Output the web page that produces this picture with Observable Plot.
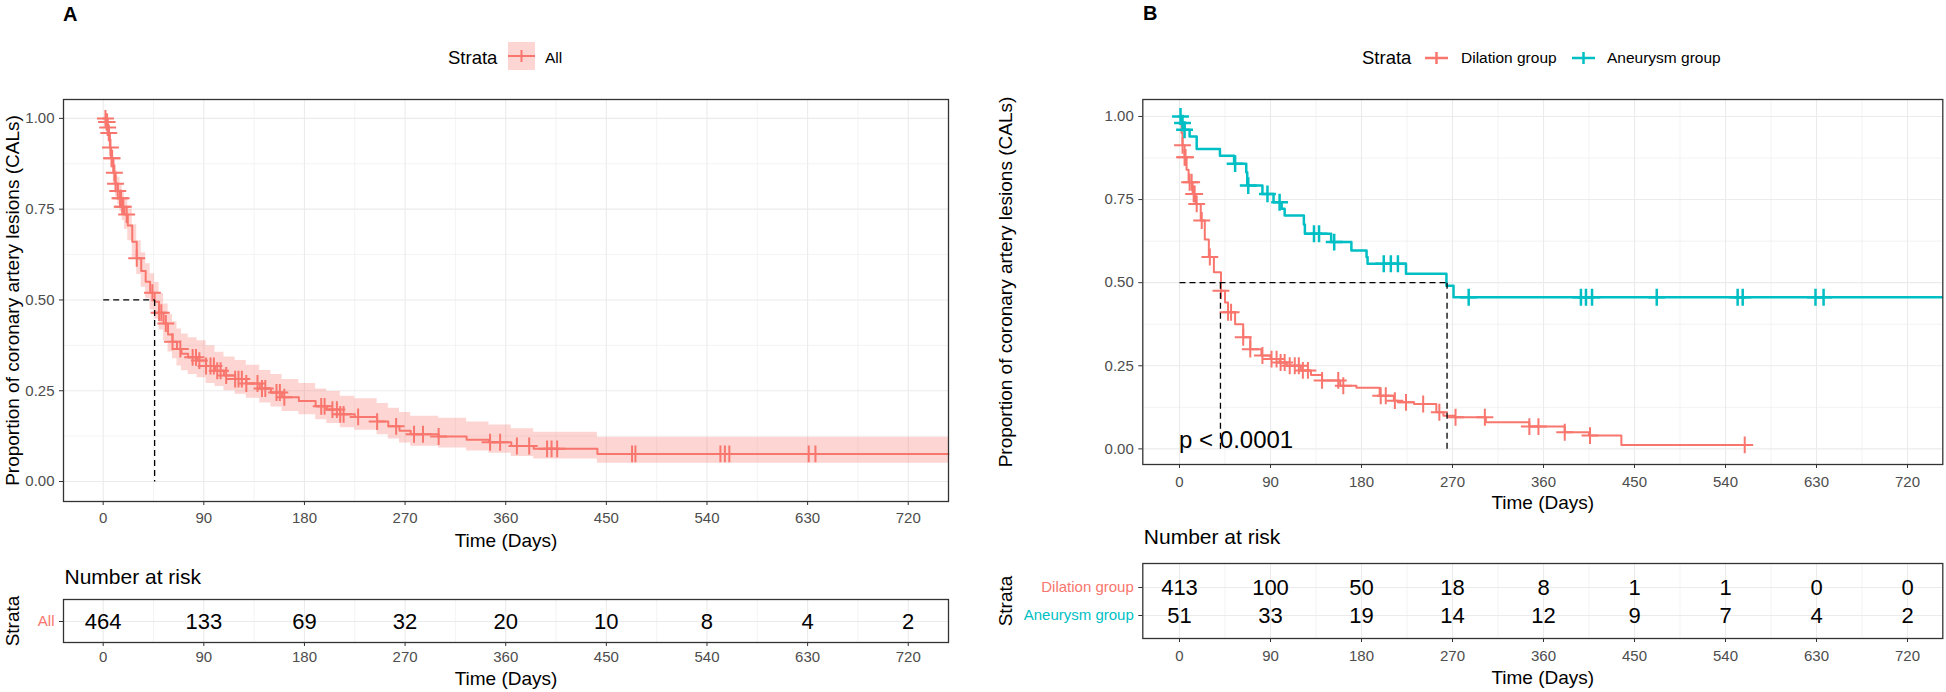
<!DOCTYPE html>
<html><head><meta charset="utf-8">
<script src="https://cdn.jsdelivr.net/npm/d3@7"></script>
<script src="https://cdn.jsdelivr.net/npm/@observablehq/plot@0.6"></script>
<style>
body{margin:0;background:#fff;}
#root{position:relative;width:1946px;height:692px;overflow:hidden;background:#fff;font-family:"Liberation Sans",Arial,sans-serif;}
#root > svg{position:absolute;}
</style></head><body><div id="root"></div>
<script>
// ---------- DATA ----------
const xTicks = [0, 90, 180, 270, 360, 450, 540, 630, 720];
const xMinor = [45, 135, 225, 315, 405, 495, 585, 675];
const yTicks = [0, 0.25, 0.5, 0.75, 1];
const yMinor = [0.125, 0.375, 0.625, 0.875];

// Panel A: all patients (Kaplan-Meier steps)
const timesA = [0, 3, 4, 5, 6, 7, 9, 11, 13, 15, 17, 19, 22, 26, 30, 34, 38, 42, 46, 50, 54, 58, 62, 66, 70, 76, 84, 92, 100, 108, 118, 128, 140, 150, 160, 175, 190, 200, 212, 225, 245, 255, 265, 275, 300, 325, 345, 365, 385, 442, 756];
const survA  = [1, 0.99, 0.975, 0.96, 0.92, 0.89, 0.85, 0.82, 0.80, 0.78, 0.757, 0.735, 0.705, 0.66, 0.615, 0.58, 0.55, 0.52, 0.495, 0.465, 0.435, 0.405, 0.385, 0.365, 0.352, 0.342, 0.333, 0.318, 0.305, 0.292, 0.282, 0.27, 0.256, 0.245, 0.232, 0.222, 0.207, 0.198, 0.185, 0.178, 0.165, 0.152, 0.14, 0.13, 0.124, 0.115, 0.108, 0.098, 0.09, 0.076, 0.076];
const lowerA = [1, 0.981, 0.96, 0.942, 0.896, 0.862, 0.818, 0.785, 0.763, 0.742, 0.718, 0.695, 0.663, 0.616, 0.57, 0.535, 0.503, 0.472, 0.447, 0.417, 0.387, 0.357, 0.338, 0.318, 0.305, 0.295, 0.286, 0.27, 0.262, 0.25, 0.24, 0.229, 0.216, 0.205, 0.193, 0.184, 0.17, 0.16, 0.148, 0.141, 0.129, 0.117, 0.106, 0.097, 0.092, 0.084, 0.078, 0.069, 0.062, 0.05, 0.05];
const upperA = [1, 0.999, 0.99, 0.978, 0.945, 0.918, 0.884, 0.856, 0.838, 0.82, 0.798, 0.777, 0.75, 0.707, 0.663, 0.63, 0.6, 0.572, 0.548, 0.518, 0.489, 0.46, 0.44, 0.42, 0.406, 0.396, 0.388, 0.374, 0.356, 0.343, 0.333, 0.32, 0.306, 0.295, 0.281, 0.27, 0.255, 0.248, 0.235, 0.228, 0.215, 0.202, 0.19, 0.18, 0.174, 0.164, 0.156, 0.145, 0.136, 0.122, 0.122];
const censA = [2, 3, 3.5, 4, 5, 6.5, 7.5, 8, 10, 11, 13, 15, 16, 17, 18, 21, 30, 44, 50, 52, 56, 62, 69, 80, 83, 86, 92, 96, 99, 102, 105, 110, 118, 121, 124, 128, 138, 142, 145, 155, 158, 162, 195, 198, 205, 209, 212, 215, 228, 245, 262, 278, 286, 300, 346, 355, 370, 381, 397, 401, 406, 473, 476, 552, 556, 560, 631, 637];
const medianA = [46];

// Panel B: dilation group
const timesDil = [0, 2, 3, 5, 7, 9, 13, 16, 21, 25, 29, 34, 41, 45, 48, 55, 63, 70, 81, 90, 99, 106, 120, 130, 141, 159, 175, 198, 212, 216, 232, 254, 261, 272, 303, 346, 381, 405, 437, 559];
const survDil  = [1, 0.95, 0.913, 0.877, 0.84, 0.802, 0.767, 0.737, 0.687, 0.63, 0.577, 0.531, 0.476, 0.44, 0.411, 0.375, 0.336, 0.30, 0.281, 0.27, 0.26, 0.25, 0.236, 0.222, 0.206, 0.19, 0.184, 0.16, 0.145, 0.14, 0.135, 0.11, 0.10, 0.095, 0.08, 0.067, 0.05, 0.04, 0.012, 0.012];
const censDil = [3, 5, 6, 10, 12, 14, 15, 17, 22, 30, 41, 48, 51, 63, 70, 82, 91, 96, 100, 104, 109, 114, 118, 122, 127, 141, 157, 162, 199, 204, 213, 224, 241, 257, 273, 302, 346, 355, 381, 406, 559];

// Panel B: aneurysm group
const timesAn = [0, 2, 5, 10, 17, 40, 54, 66, 67, 82, 93, 101, 104, 123, 124, 150, 170, 185, 186, 224, 264, 271, 754];
const survAn  = [1, 0.98, 0.96, 0.94, 0.902, 0.882, 0.858, 0.832, 0.792, 0.767, 0.742, 0.722, 0.702, 0.675, 0.647, 0.622, 0.597, 0.577, 0.557, 0.527, 0.491, 0.456, 0.456];
const censAn = [1, 3, 5, 55, 68, 87, 99, 133, 138, 153, 202, 209, 216, 286, 397, 402, 408, 472, 552, 557, 629, 637];
const medianB = [40.5, 264.6];
const pvalText = ["p < 0.0001"];

// Number at risk
const riskTimes = [0, 90, 180, 270, 360, 450, 540, 630, 720];
const riskAll = [464, 133, 69, 32, 20, 10, 8, 4, 2];
const riskDil = [413, 100, 50, 18, 8, 1, 1, 0, 0];
const riskAn  = [51, 33, 19, 14, 12, 9, 7, 4, 2];

// ---------- STYLE ----------
const RED = "#F8766D", TEAL = "#00BFC4", GRID = "#EBEBEB", BORDER = "#333333", TICKTXT = "#4D4D4D";
const FONT = "Liberation Sans, Arial, sans-serif";
const root = document.getElementById("root");

function stepAt(times, surv, t) {
  let v = surv[0];
  for (let i = 0; i < times.length; i++) { if (times[i] <= t) v = surv[i]; else break; }
  return v;
}
function place(svg, left, top) { svg.style.left = left + "px"; svg.style.top = top + "px"; root.appendChild(svg); }
function grids() {
  return [
    Plot.gridX(xMinor, {stroke: GRID, strokeOpacity: 1, strokeWidth: 0.6}),
    Plot.gridY(yMinor, {stroke: GRID, strokeOpacity: 1, strokeWidth: 0.6}),
    Plot.gridX(xTicks, {stroke: GRID, strokeOpacity: 1, strokeWidth: 1.1}),
    Plot.gridY(yTicks, {stroke: GRID, strokeOpacity: 1, strokeWidth: 1.1})
  ];
}
function medianLinks(meds) {
  const m = d3.max(meds);
  const segs = [{x1: 0, x2: m, y1: 0.5, y2: 0.5}].concat(meds.map(v => ({x1: v, x2: v, y1: 0.5, y2: 0})));
  return Plot.link(segs, {x1: "x1", x2: "x2", y1: "y1", y2: "y2", stroke: "#000", strokeWidth: 1.3, strokeDasharray: "6,4"});
}
function label(txt, opts) {
  return Plot.text([txt], {text: d => d, textAnchor: "middle", lineAnchor: "middle", fill: "#000", ...opts});
}
const yTitle = "Proportion of coronary artery lesions (CALs)";

// ---------- PANEL A ----------
const kmA = timesA.map((t, i) => ({t, s: survA[i], lo: lowerA[i], hi: upperA[i]}));
const cA = censA.map(t => ({t, s: stepAt(timesA, survA, t)}));
const plotA = Plot.plot({
  width: 973, height: 560, marginLeft: 63, marginRight: 25, marginTop: 99, marginBottom: 59,
  style: {fontFamily: FONT, fontSize: "15px", color: TICKTXT, background: "transparent", overflow: "visible"},
  x: {domain: [-35.5, 756], axis: null},
  y: {domain: [-0.055, 1.052], axis: null},
  marks: [
    ...grids(),
    Plot.areaY(kmA, {x: "t", y1: "lo", y2: "hi", curve: "step-after", fill: RED, fillOpacity: 0.3}),
    Plot.line(kmA, {x: "t", y: "s", curve: "step-after", stroke: RED, strokeWidth: 2}),
    Plot.dot(cA, {x: "t", y: "s", symbol: "plus", r: 5.5, stroke: RED, strokeWidth: 2}),
    medianLinks(medianA),
    Plot.frame({stroke: BORDER, strokeWidth: 1.3}),
    Plot.axisX({ticks: xTicks, tickSize: 4, tickPadding: 7, label: null, stroke: BORDER, fill: TICKTXT}),
    Plot.axisY({ticks: yTicks, tickSize: 4, tickPadding: 5, label: null, tickFormat: d3.format(".2f"), stroke: BORDER, fill: TICKTXT}),
    label("Time (Days)", {frameAnchor: "bottom", dy: 39, fontSize: 19}),
    label(yTitle, {frameAnchor: "left", dx: -51, rotate: -90, fontSize: 19})
  ]
});
place(plotA, 0, 0);

// ---------- PANEL A RISK TABLE ----------
const rA = riskTimes.map((t, i) => ({t, g: "All", n: riskAll[i]}));
const tabA = Plot.plot({
  width: 973, height: 132, marginLeft: 63, marginRight: 25, marginTop: 39, marginBottom: 50,
  style: {fontFamily: FONT, fontSize: "15px", color: TICKTXT, background: "transparent", overflow: "visible"},
  x: {domain: [-35.5, 756], axis: null},
  y: {domain: ["All"], type: "point", axis: null},
  marks: [
    Plot.gridX(xMinor, {stroke: GRID, strokeOpacity: 1, strokeWidth: 0.6}),
    Plot.gridX(xTicks, {stroke: GRID, strokeOpacity: 1, strokeWidth: 1.1}),
    Plot.gridY(["All"], {stroke: GRID, strokeOpacity: 1, strokeWidth: 1.1}),
    Plot.text(rA, {x: "t", y: "g", text: d => String(d.n), fontSize: 22, fill: "#000"}),
    Plot.frame({stroke: BORDER, strokeWidth: 1.3}),
    Plot.axisX({ticks: xTicks, tickSize: 4, tickPadding: 5, label: null, stroke: BORDER, fill: TICKTXT}),
    Plot.axisY({ticks: ["All"], tickSize: 4, tickPadding: 5, label: null, stroke: BORDER, fill: RED}),
    label("Number at risk", {frameAnchor: "top-left", dx: 1, dy: -22, textAnchor: "start", fontSize: 21}),
    label("Strata", {frameAnchor: "left", dx: -51, rotate: -90, fontSize: 19}),
    label("Time (Days)", {frameAnchor: "bottom", dy: 36, fontSize: 19})
  ]
});
place(tabA, 0, 560);

// ---------- PANEL B ----------
const kmDil = timesDil.map((t, i) => ({t, s: survDil[i]}));
const kmAn = timesAn.map((t, i) => ({t, s: survAn[i]}));
const cDil = censDil.map(t => ({t, s: stepAt(timesDil, survDil, t)}));
const cAn = censAn.map(t => ({t, s: stepAt(timesAn, survAn, t)}));
const plotB = Plot.plot({
  width: 973, height: 520, marginLeft: 169.3, marginRight: 3.7, marginTop: 99, marginBottom: 56,
  style: {fontFamily: FONT, fontSize: "15px", color: TICKTXT, background: "transparent", overflow: "visible"},
  x: {domain: [-36.3, 754.9], axis: null},
  y: {domain: [-0.047, 1.051], axis: null},
  marks: [
    ...grids(),
    Plot.line(kmDil, {x: "t", y: "s", curve: "step-after", stroke: RED, strokeWidth: 2}),
    Plot.line(kmAn, {x: "t", y: "s", curve: "step-after", stroke: TEAL, strokeWidth: 2.5}),
    Plot.dot(cDil, {x: "t", y: "s", symbol: "plus", r: 5.5, stroke: RED, strokeWidth: 2}),
    Plot.dot(cAn, {x: "t", y: "s", symbol: "plus", r: 5.5, stroke: TEAL, strokeWidth: 2.5}),
    medianLinks(medianB),
    Plot.text(pvalText, {text: d => d, frameAnchor: "bottom-left", dx: 36.3, dy: -24, textAnchor: "start", lineAnchor: "middle", fontSize: 24, fill: "#000"}),
    Plot.frame({stroke: BORDER, strokeWidth: 1.3}),
    Plot.axisX({ticks: xTicks, tickSize: 4, tickPadding: 8, label: null, stroke: BORDER, fill: TICKTXT}),
    Plot.axisY({ticks: yTicks, tickSize: 4, tickPadding: 5, label: null, tickFormat: d3.format(".2f"), stroke: BORDER, fill: TICKTXT}),
    label("Time (Days)", {frameAnchor: "bottom", dy: 38, fontSize: 19}),
    label(yTitle, {frameAnchor: "left", dx: -137, rotate: -90, fontSize: 19})
  ]
});
place(plotB, 973, 0);

// ---------- PANEL B RISK TABLE ----------
const groupsB = ["Dilation group", "Aneurysm group"];
const rB = riskTimes.flatMap((t, i) => [{t, g: groupsB[0], n: riskDil[i]}, {t, g: groupsB[1], n: riskAn[i]}]);
const tabB = Plot.plot({
  width: 973, height: 172, marginLeft: 169.3, marginRight: 3.7, marginTop: 43, marginBottom: 54,
  style: {fontFamily: FONT, fontSize: "15px", color: TICKTXT, background: "transparent", overflow: "visible"},
  x: {domain: [-36.3, 754.9], axis: null},
  y: {domain: groupsB, type: "point", padding: 0.8, axis: null},
  marks: [
    Plot.gridX(xMinor, {stroke: GRID, strokeOpacity: 1, strokeWidth: 0.6}),
    Plot.gridX(xTicks, {stroke: GRID, strokeOpacity: 1, strokeWidth: 1.1}),
    Plot.gridY(groupsB, {stroke: GRID, strokeOpacity: 1, strokeWidth: 1.1}),
    Plot.text(rB, {x: "t", y: "g", text: d => String(d.n), fontSize: 22, fill: "#000"}),
    Plot.frame({stroke: BORDER, strokeWidth: 1.3}),
    Plot.axisX({ticks: xTicks, tickSize: 4, tickPadding: 8, label: null, stroke: BORDER, fill: TICKTXT}),
    Plot.axisY({ticks: [groupsB[0]], tickSize: 4, tickPadding: 5, label: null, stroke: BORDER, fill: RED}),
    Plot.axisY({ticks: [groupsB[1]], tickSize: 4, tickPadding: 5, label: null, stroke: BORDER, fill: TEAL}),
    label("Number at risk", {frameAnchor: "top-left", dx: 1, dy: -26, textAnchor: "start", fontSize: 21}),
    label("Strata", {frameAnchor: "left", dx: -137, rotate: -90, fontSize: 19}),
    label("Time (Days)", {frameAnchor: "bottom", dy: 39, fontSize: 19})
  ]
});
place(tabB, 973, 520);

// ---------- LEGENDS & PANEL LABELS ----------
const ov = d3.select(root).append("svg")
  .attr("width", 1946).attr("height", 92)
  .style("left", "0px").style("top", "0px")
  .style("font-family", FONT);
ov.append("text").attr("x", 63).attr("y", 14).attr("dy", "0.35em").attr("font-size", 20).attr("font-weight", "bold").text("A");
ov.append("text").attr("x", 1143).attr("y", 13).attr("dy", "0.35em").attr("font-size", 20).attr("font-weight", "bold").text("B");

// Legend A
ov.append("text").attr("x", 448).attr("y", 58).attr("dy", "0.35em").attr("font-size", 18.5).text("Strata");
ov.append("rect").attr("x", 508).attr("y", 42).attr("width", 27).attr("height", 28).attr("fill", RED).attr("fill-opacity", 0.3);
ov.append("line").attr("x1", 508).attr("x2", 535).attr("y1", 56).attr("y2", 56).attr("stroke", RED).attr("stroke-width", 2);
ov.append("line").attr("x1", 521.5).attr("x2", 521.5).attr("y1", 50).attr("y2", 62).attr("stroke", RED).attr("stroke-width", 2);
ov.append("text").attr("x", 545).attr("y", 58).attr("dy", "0.35em").attr("font-size", 15.5).text("All");

// Legend B
const legB = [{label: groupsB[0], color: RED, x: 1425, tx: 1461}, {label: groupsB[1], color: TEAL, x: 1572, tx: 1607}];
ov.append("text").attr("x", 1362).attr("y", 58).attr("dy", "0.35em").attr("font-size", 18.5).text("Strata");
legB.forEach(k => {
  ov.append("line").attr("x1", k.x).attr("x2", k.x + 23).attr("y1", 58).attr("y2", 58).attr("stroke", k.color).attr("stroke-width", 2.5);
  ov.append("line").attr("x1", k.x + 11.5).attr("x2", k.x + 11.5).attr("y1", 52).attr("y2", 64).attr("stroke", k.color).attr("stroke-width", 2.5);
  ov.append("text").attr("x", k.tx).attr("y", 58).attr("dy", "0.35em").attr("font-size", 15.5).text(k.label);
});
</script></body></html>
